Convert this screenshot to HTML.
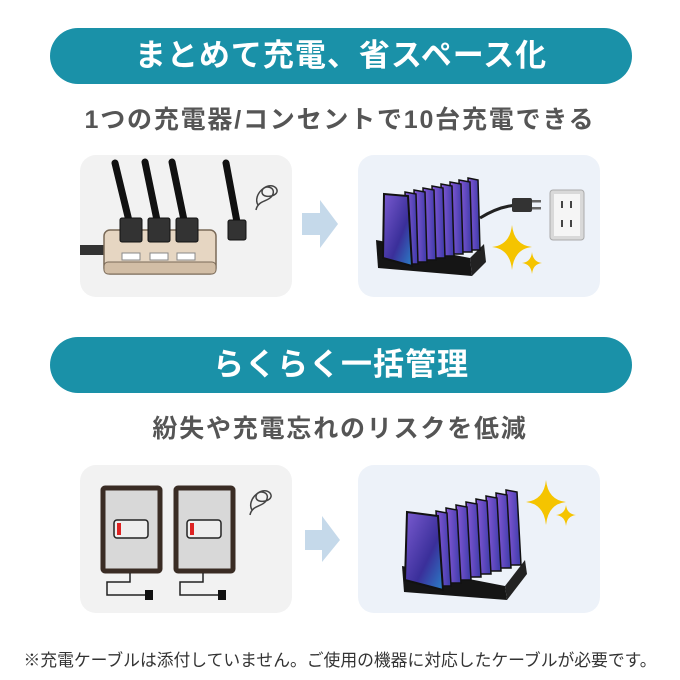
<!DOCTYPE html>
<html><head><meta charset="utf-8"><style>
html,body{margin:0;padding:0;background:#fff;}
body{width:680px;height:680px;position:relative;overflow:hidden;font-family:"Liberation Sans","Noto Sans CJK JP",sans-serif;}
.ban{position:absolute;left:50px;width:582px;height:56px;border-radius:28px;background:#1a91a8;color:#fff;font-weight:bold;font-size:31px;text-align:center;line-height:56px;letter-spacing:1px;}
.sub{position:absolute;left:0;width:680px;text-align:center;color:#555;font-weight:bold;font-size:25px;letter-spacing:1.8px;}
.foot{position:absolute;left:0;width:680px;top:647px;text-align:center;color:#333;font-size:16.8px;}
svg{position:absolute;left:0;top:0;}
</style></head><body>
<svg width="680" height="680" viewBox="0 0 680 680">
<defs>
<linearGradient id="scr" x1="0" y1="0" x2="1" y2="1"><stop offset="0" stop-color="#7a5bd0"/><stop offset="0.6" stop-color="#3a2f9a"/><stop offset="1" stop-color="#2a80c8"/></linearGradient>
<linearGradient id="scr2" x1="0" y1="0" x2="1" y2="0"><stop offset="0" stop-color="#8a5ad8"/><stop offset="1" stop-color="#3a3aa8"/></linearGradient>
</defs>
<rect x="80" y="155" width="212" height="142" rx="16" fill="#f2f2f2"/>
<rect x="358" y="155" width="242" height="142" rx="16" fill="#edf2f9"/>
<rect x="80" y="465" width="212" height="148" rx="16" fill="#f2f2f2"/>
<rect x="358" y="465" width="242" height="148" rx="16" fill="#edf2f9"/>
<polygon points="302,213 320,213 320,200 338,224 320,248 320,235 302,235" fill="#c5d9ea"/>
<polygon points="305,530 322,530 322,516 340,540 322,562 322,550 305,550" fill="#c5d9ea"/>
<rect x="80" y="245" width="30" height="10" fill="#333"/>
<rect x="104" y="230" width="112" height="44" rx="6" fill="#e6d6c2" stroke="#7a6a58" stroke-width="1.5"/>
<rect x="104" y="262" width="112" height="12" rx="4" fill="#d2bea6" stroke="#7a6a58" stroke-width="1"/>
<g fill="#fff" stroke="#888"><rect x="122" y="253" width="18" height="7"/><rect x="150" y="253" width="18" height="7"/><rect x="177" y="253" width="18" height="7"/></g>
<g stroke="#111" stroke-width="7" fill="none" stroke-linecap="round">
<path d="M115 163 L130 225"/><path d="M145 162 L158 225"/><path d="M172 162 L185 225"/><path d="M226 163 L237 222"/></g>
<g fill="#333" stroke="#111"><rect x="120" y="218" width="22" height="24" rx="2"/><rect x="148" y="218" width="22" height="24" rx="2"/><rect x="176" y="218" width="22" height="24" rx="2"/><rect x="228" y="220" width="18" height="20" rx="2"/></g>
<path d="M258 205 C252 195 268 180 276 188 C282 196 262 200 262 192 C262 184 278 186 272 196 C268 202 258 200 256 210" fill="none" stroke="#444" stroke-width="1.5"/>
<polygon points="376,240 470,258 472,276 378,268" fill="#151515"/>
<polygon points="470,258 484,244 486,262 472,276" fill="#222"/>
<g fill="url(#scr2)" stroke="#111" stroke-width="1.5">
<polygon points="468,178 478,180 480,250 470,250"/>
<polygon points="459,180 470,182 472,252 461,252"/>
<polygon points="450,182 461,184 463,254 452,254"/>
<polygon points="441,184 452,186 454,256 443,256"/>
<polygon points="432,186 443,188 445,258 434,258"/>
<polygon points="423,188 434,190 436,260 425,260"/>
<polygon points="414,190 425,192 427,262 416,262"/>
<polygon points="405,192 416,194 418,264 407,264"/>
</g>
<polygon points="384,194 408,196 412,266 383,258" fill="url(#scr)" stroke="#111" stroke-width="2"/>
<path d="M480 218 C496 208 510 205 520 205" stroke="#222" stroke-width="3" fill="none"/>
<rect x="512" y="198" width="20" height="14" rx="2" fill="#333"/>
<rect x="532" y="200" width="9" height="2.5" fill="#666"/><rect x="532" y="207" width="9" height="2.5" fill="#666"/>
<rect x="550" y="190" width="34" height="50" rx="3" fill="#d9d9d9" stroke="#aaa"/>
<rect x="554" y="194" width="26" height="42" fill="#f5f5f5"/>
<g fill="#444"><rect x="561" y="201" width="2" height="7"/><rect x="570" y="201" width="2" height="7"/><rect x="561" y="220" width="2" height="7"/><rect x="570" y="220" width="2" height="7"/></g>
<path d="M512 225 Q514 245 532 247 Q514 249 512 270 Q510 249 492 247 Q510 245 512 225Z" fill="#f5c400"/>
<path d="M532 252 Q533 262 542 263 Q533 264 532 274 Q531 264 522 263 Q531 262 532 252Z" fill="#f5c400"/>
<rect x="103" y="488" width="57" height="83" rx="2" fill="#d8d8d8" stroke="#3a2c24" stroke-width="5"/>
<rect x="176" y="488" width="57" height="83" rx="2" fill="#d8d8d8" stroke="#3a2c24" stroke-width="5"/>
<rect x="114" y="520" width="34" height="18" rx="3" fill="#eee" stroke="#222" stroke-width="1.5"/><rect x="117" y="523" width="4" height="12" fill="#d22"/>
<rect x="187" y="520" width="34" height="18" rx="3" fill="#eee" stroke="#222" stroke-width="1.5"/><rect x="190" y="523" width="4" height="12" fill="#d22"/>
<path d="M130 573 V582 H107 V595 H145 M203 573 V582 H180 V595 H218" fill="none" stroke="#222" stroke-width="1.5"/>
<rect x="145" y="590" width="8" height="10" fill="#111"/><rect x="218" y="590" width="8" height="10" fill="#111"/>
<path d="M252 510 C246 500 262 485 270 493 C276 501 256 505 256 497 C256 489 272 491 266 501 C262 507 252 505 250 515" fill="none" stroke="#444" stroke-width="1.5"/>
<polygon points="402,566 505,586 507,600 404,592" fill="#151515"/>
<polygon points="505,586 525,560 527,574 507,600" fill="#222"/>
<g fill="url(#scr2)" stroke="#111" stroke-width="1.5">
<polygon points="506,490 517,492 521,565 510,565"/>
<polygon points="496,493 507,495 511,568 500,568"/>
<polygon points="486,496 497,498 501,571 490,571"/>
<polygon points="476,499 487,501 491,574 480,574"/>
<polygon points="466,502 477,504 481,577 470,577"/>
<polygon points="456,505 467,507 471,580 460,580"/>
<polygon points="446,508 457,510 461,583 450,583"/>
<polygon points="436,511 447,513 451,586 440,586"/>
</g>
<polygon points="407,512 438,516 443,590 405,580" fill="url(#scr)" stroke="#111" stroke-width="2"/>
<path d="M546 480 Q548 500 566 502 Q548 504 546 525 Q544 504 526 502 Q544 500 546 480Z" fill="#f5c400"/>
<path d="M566 505 Q567 514 576 515 Q567 516 566 526 Q565 516 556 515 Q565 514 566 505Z" fill="#f5c400"/>
</svg>
<div class="ban" style="top:28px;">まとめて充電、省スペース化</div>
<div class="sub" style="top:100px;">1つの充電器/コンセントで10台充電できる</div>
<div class="ban" style="top:337px;">らくらく一括管理</div>
<div class="sub" style="top:409px;">紛失や充電忘れのリスクを低減</div>
<div class="foot">※充電ケーブルは添付していません。ご使用の機器に対応したケーブルが必要です。</div>
</body></html>
